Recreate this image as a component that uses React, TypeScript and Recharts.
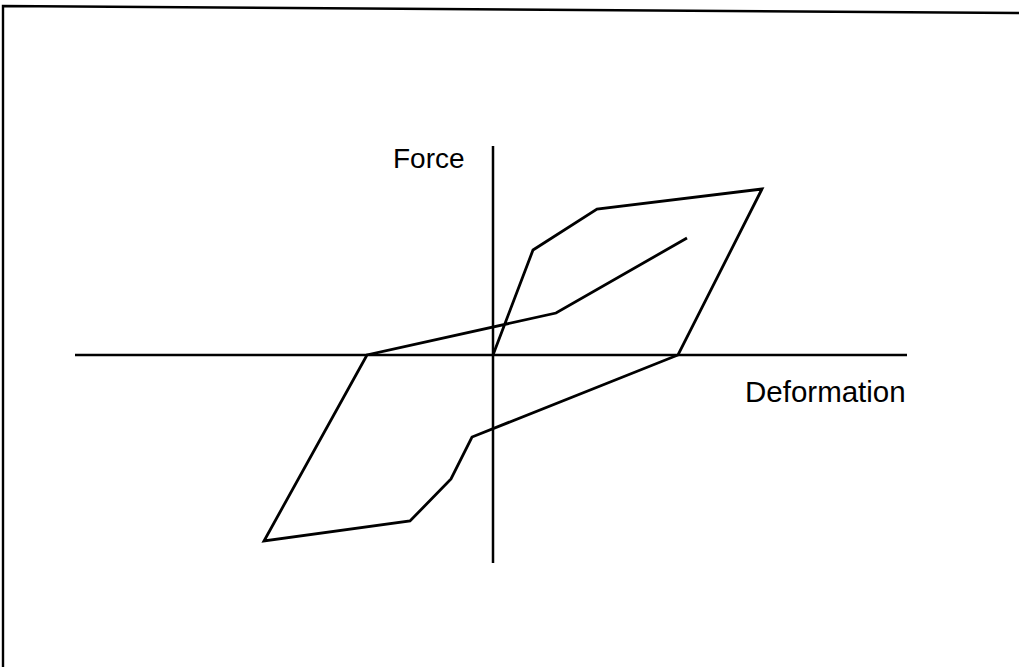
import React from 'react';
import { ScatterChart, Scatter, XAxis, YAxis, ReferenceDot } from 'recharts';

// Hysteresis loop (force vs deformation), arbitrary units
const loopDeformation = [0, 4.0, 10.4, 26.9, 18.5, -2.1, -4.2, -8.3, -22.9, -12.6, 6.3, 19.4];
const loopForce = [0, 10.5, 14.6, 16.6, 0, -8.2, -12.4, -16.6, -18.6, 0, 4.2, 11.7];

// Axis lines
const xAxisLineX = [-41.8, 41.4];
const xAxisLineY = [0, 0];
const yAxisLineX = [0, 0];
const yAxisLineY = [20.9, -20.8];

// Frame (left and top edges)
const frameX = [-49.0, -49.0, 52.6];
const frameY = [-31.2, 34.9, 34.2];

const labelTexts = ['Force', 'Deformation'];
const labelX = [-10.0, 25.2];
const labelY = [18.7, -4.7];
const labelSizes = [28, 29.5];

const zip = (xs: number[], ys: number[]) => xs.map((x, i) => ({ x, y: ys[i] }));

const loopData = zip(loopDeformation, loopForce);
const xAxisData = zip(xAxisLineX, xAxisLineY);
const yAxisData = zip(yAxisLineX, yAxisLineY);
const frameData = zip(frameX, frameY);

const NoDot = () => <g />;

const makeLabel = (text: string, size: number) => (props: any) => {
  const vb = props.viewBox || {};
  const x = (vb.x || 0) + (vb.width || 0) / 2;
  const y = (vb.y || 0) + (vb.height || 0) / 2;
  return (
    <text x={x} y={y} fill="#000" fontSize={size} fontFamily="'Liberation Sans', Arial, sans-serif" textAnchor="start">
      {text}
    </text>
  );
};

export default function App() {
  return (
    <div style={{ position: 'absolute', left: 0, top: 0, width: 1019, height: 667, background: '#fff' }}>
      <ScatterChart width={1019} height={667} margin={{ top: 0, right: 0, bottom: 0, left: 0 }}>
        <XAxis type="number" dataKey="x" domain={[-49.3, 52.6]} hide allowDataOverflow />
        <YAxis type="number" dataKey="y" domain={[-31.2, 35.5]} hide allowDataOverflow />
        <Scatter data={frameData} line={{ stroke: '#000', strokeWidth: 2.4 }} lineType="joint" shape={NoDot} isAnimationActive={false} />
        <Scatter data={xAxisData} line={{ stroke: '#000', strokeWidth: 2.5 }} lineType="joint" shape={NoDot} isAnimationActive={false} />
        <Scatter data={yAxisData} line={{ stroke: '#000', strokeWidth: 2.5 }} lineType="joint" shape={NoDot} isAnimationActive={false} />
        <Scatter data={loopData} line={{ stroke: '#000', strokeWidth: 2.8, strokeLinejoin: 'miter' } as any} lineType="joint" shape={NoDot} isAnimationActive={false} />
        {labelTexts.map((t, i) => (
          <ReferenceDot key={t} x={labelX[i]} y={labelY[i]} r={0} fill="none" stroke="none" label={makeLabel(t, labelSizes[i])} />
        ))}
      </ScatterChart>
    </div>
  );
}
